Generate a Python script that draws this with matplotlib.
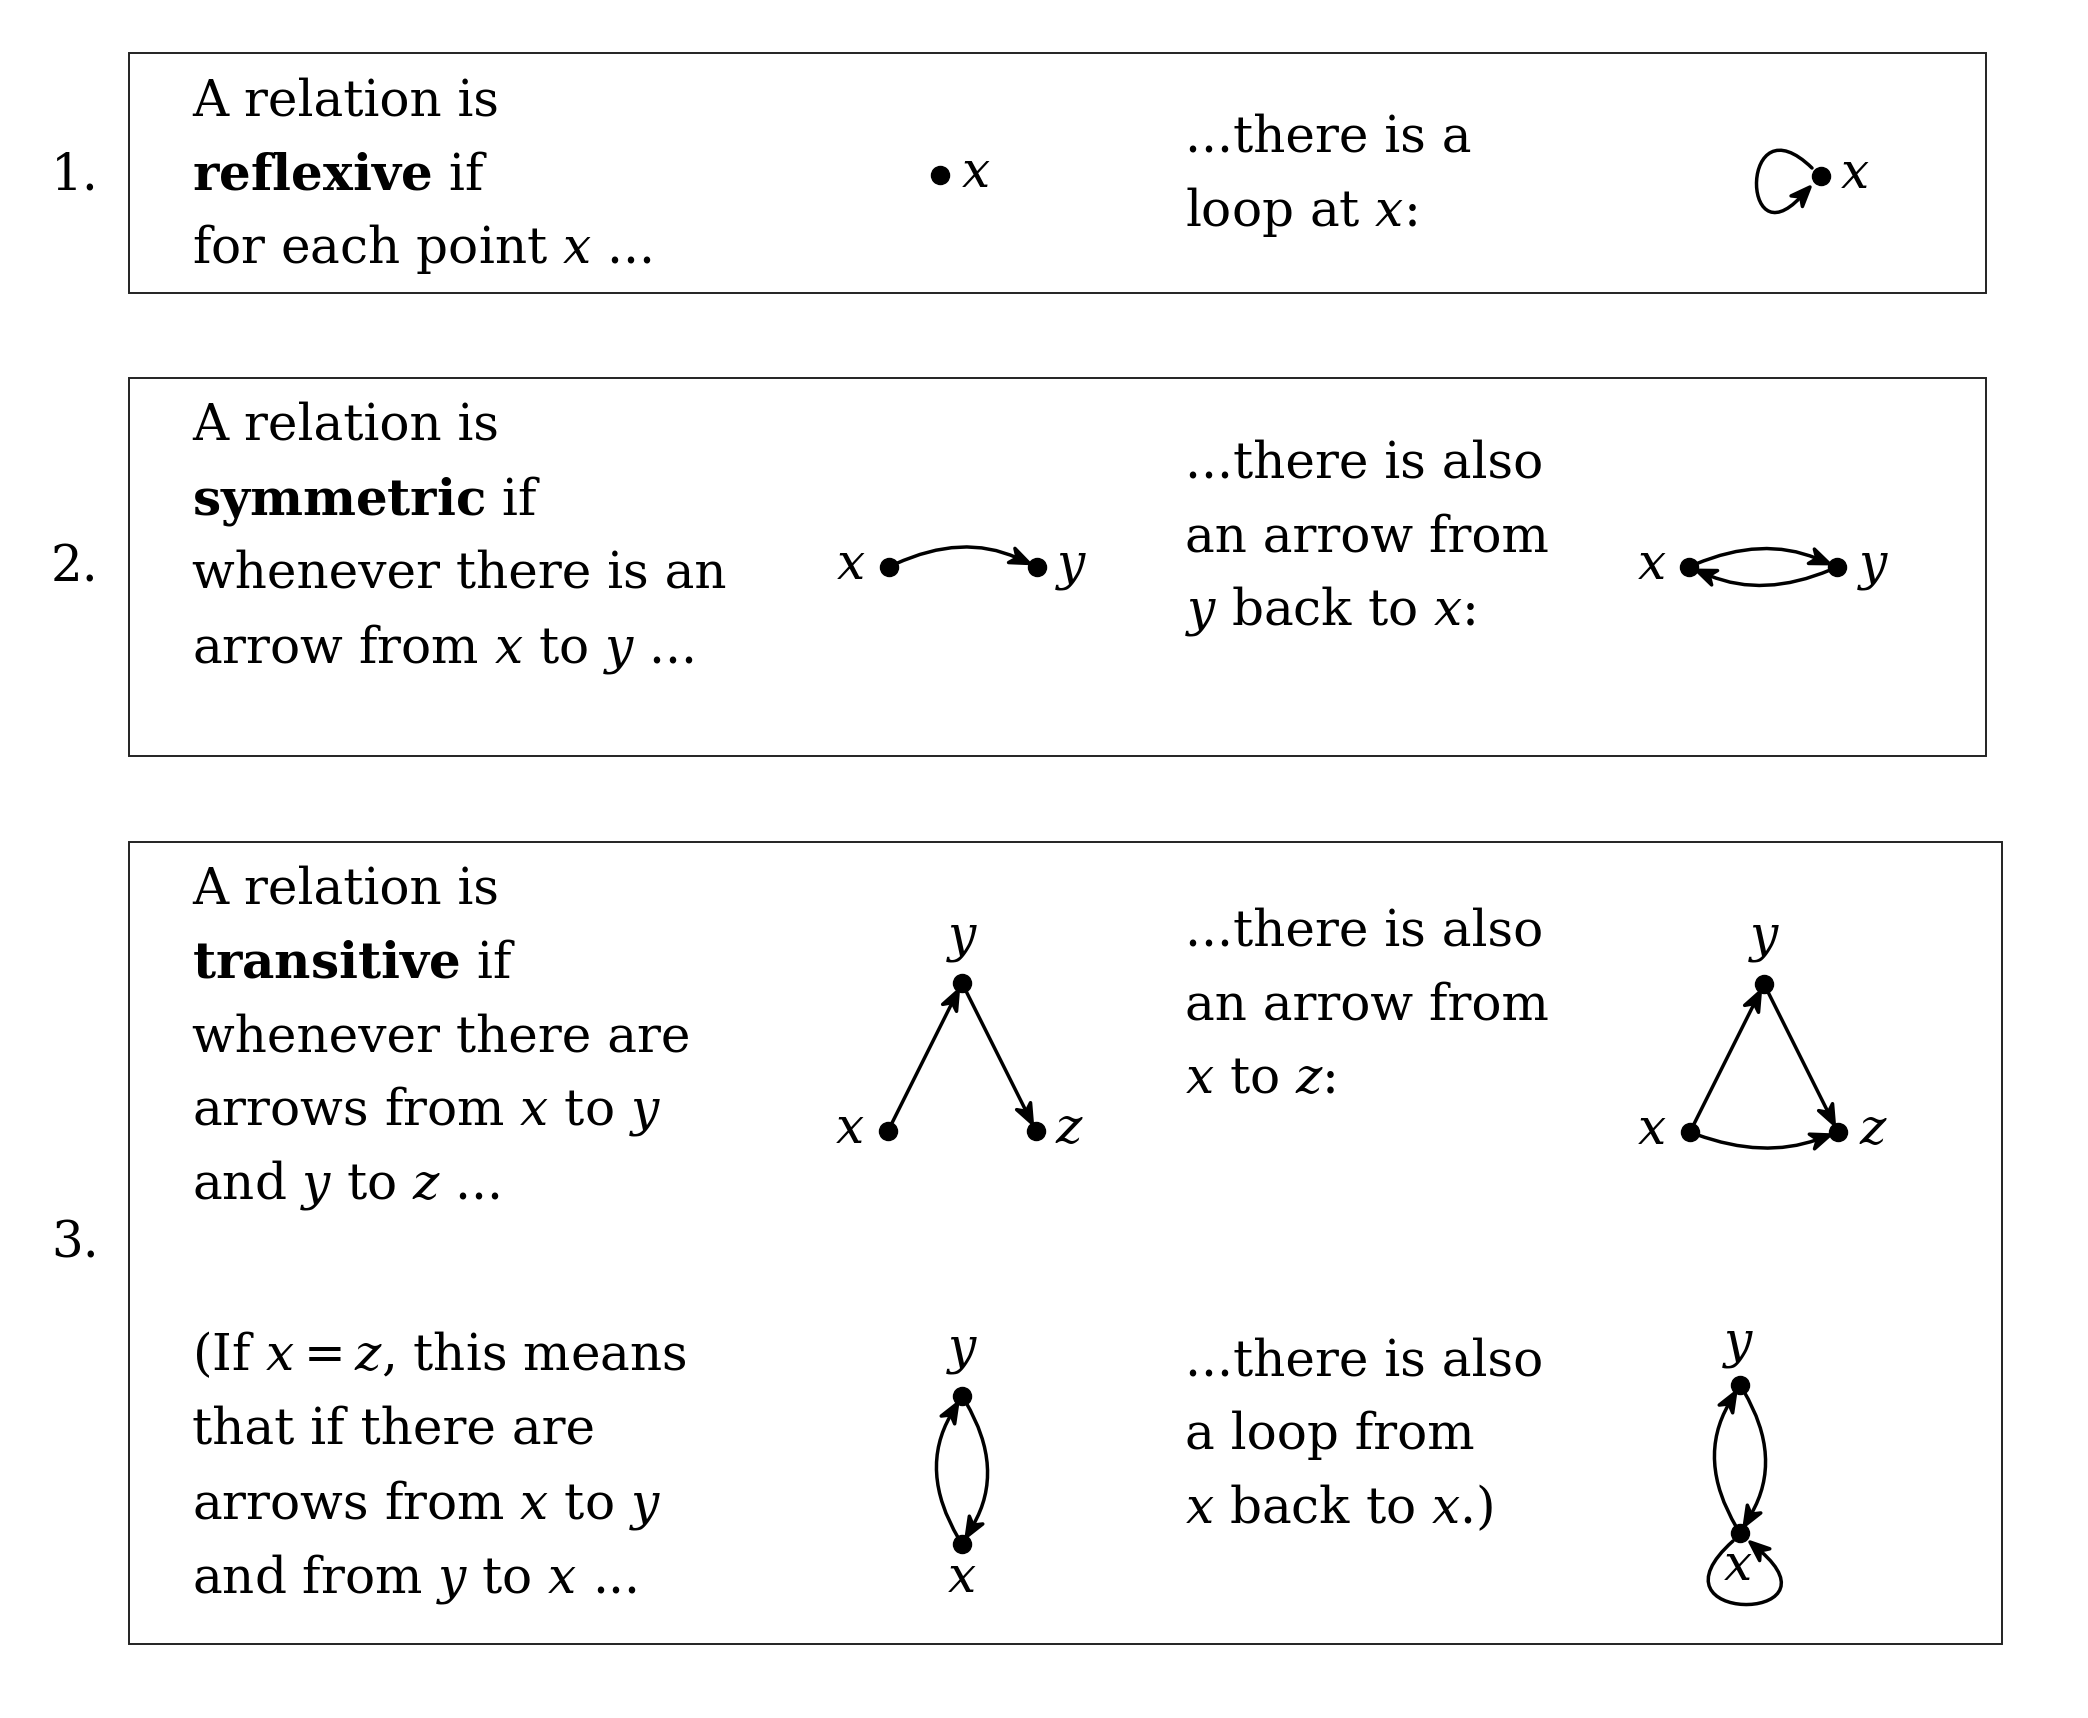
import matplotlib
matplotlib.use("Agg")
import matplotlib.pyplot as plt
import numpy as np
from matplotlib.patches import Rectangle, FancyArrowPatch, ArrowStyle
from matplotlib.path import Path

plt.rcParams["font.family"] = "DejaVu Serif"
plt.rcParams["mathtext.fontset"] = "custom"
plt.rcParams["mathtext.rm"] = "DejaVu Serif"
plt.rcParams["mathtext.it"] = "DejaVu Serif:italic"
plt.rcParams["mathtext.bf"] = "DejaVu Serif:bold"

# ---- text content ----
numbers = ["1.", "2.", "3."]

box1_left = ["A relation is", r"$\mathbf{reflexive}$ if", r"for each point $x$ ..."]
box1_right = ["...there is a", r"loop at $x$:"]

box2_left = ["A relation is", r"$\mathbf{symmetric}$ if",
             "whenever there is an", r"arrow from $x$ to $y$ ..."]
box2_right = ["...there is also", "an arrow from", r"$y$ back to $x$:"]

box3_left = ["A relation is", r"$\mathbf{transitive}$ if", "whenever there are",
             r"arrows from $x$ to $y$", r"and $y$ to $z$ ..."]
box3_right = ["...there is also", "an arrow from", r"$x$ to $z$:"]

box3b_left = [r"(If $x = z$, this means", "that if there are",
              r"arrows from $x$ to $y$", r"and from $y$ to $x$ ..."]
box3b_right = ["...there is also", "a loop from", r"$x$ back to $x$.)"]

# ---- layout (pixel coordinates, y downwards) ----
W, H = 2088, 1718
FS = 36
LINE = 74
X_LEFT, X_RIGHT = 192, 1185
LW = 2.5
boxes = [(129, 53, 1986, 293), (129, 378, 1986, 756), (129, 842, 2002, 1644)]
num_pos = [(75, 189), (75, 582), (75, 1257)]


class Stealth(ArrowStyle._Base):
    # concave arrow head, a bit like the tikz "stealth" tip
    def __init__(self, head_length=1.0, head_width=0.8, notch=0.3):
        self.head_length = head_length
        self.head_width = head_width
        self.notch = notch
        super().__init__()

    def transmute(self, path, mutation_size, linewidth):
        verts = path.vertices.copy()
        tip = verts[-1].copy()
        d = tip - verts[-2]
        d = d / np.hypot(*d)
        n = np.array([-d[1], d[0]])
        L = self.head_length * mutation_size
        w = self.head_width * mutation_size / 2
        inner = tip - d * L * (1 - self.notch)
        verts[-1] = inner
        line = Path(verts, path.codes)
        head = Path([tip, tip - d * L + n * w, inner, tip - d * L - n * w, tip],
                    [Path.MOVETO, Path.LINETO, Path.LINETO, Path.LINETO,
                     Path.CLOSEPOLY])
        return [line, head], [False, True]


fig = plt.figure(figsize=(W / 100, H / 100), dpi=100)
ax = fig.add_axes([0, 0, 1, 1])
ax.set_xlim(0, W)
ax.set_ylim(H, 0)
ax.axis("off")

for x0, y0, x1, y1 in boxes:
    ax.add_patch(Rectangle((x0, y0), x1 - x0, y1 - y0, fill=False,
                           ec="#222222", lw=1.4))

for n, (nx, ny) in zip(numbers, num_pos):
    ax.text(nx, ny, n, fontsize=FS, ha="center", va="baseline")


def block(lines, x, y0):
    for i, s in enumerate(lines):
        ax.text(x, y0 + i * LINE, s, fontsize=FS, ha="left", va="baseline")


block(box1_left, X_LEFT, 115)
block(box1_right, X_RIGHT, 152)
block(box2_left, X_LEFT, 440)
block(box2_right, X_RIGHT, 477)
block(box3_left, X_LEFT, 903)
block(box3_right, X_RIGHT, 945)
block(box3b_left, X_LEFT, 1370)
block(box3b_right, X_RIGHT, 1375)


# ---- diagrams ----
def dot(p):
    ax.plot(p[0], p[1], "o", color="black", ms=13, zorder=5)


def label(s, x, y):
    ax.text(x, y, s, fontsize=FS, ha="center", va="baseline")


def arrow(a, b, rad=0.0):
    ax.add_patch(FancyArrowPatch(a, b, arrowstyle=Stealth(), mutation_scale=14,
                                 connectionstyle=f"arc3,rad={rad}",
                                 shrinkA=5, shrinkB=6, lw=LW, color="black",
                                 zorder=4))


def loop(verts):
    codes = [Path.MOVETO, Path.CURVE4, Path.CURVE4, Path.CURVE4]
    ax.add_patch(FancyArrowPatch(path=Path(verts, codes), arrowstyle=Stealth(),
                                 mutation_scale=14, lw=LW, color="black",
                                 zorder=4))


# 1. reflexive
p = (940, 175)
dot(p)
label("$x$", 976, 187)
p = (1821, 176)
dot(p)
label("$x$", 1855, 188)
loop([(1812, 168), (1740, 98), (1740, 262), (1810, 187)])

# 2. symmetric
px, py = (889, 567), (1037, 567)
dot(px); dot(py)
label("$x$", 851, 579); label("$y$", 1071, 579)
arrow(px, py, -0.25)

px, py = (1689, 567), (1837, 567)
dot(px); dot(py)
label("$x$", 1652, 579); label("$y$", 1873, 579)
arrow(px, py, -0.23)
arrow(py, px, -0.23)

# 3. transitive
px, py, pz = (888, 1131), (962, 983), (1036, 1131)
for q in (px, py, pz):
    dot(q)
label("$x$", 850, 1143); label("$y$", 962, 950); label("$z$", 1070, 1143)
arrow(px, py)
arrow(py, pz)

px, py, pz = (1690, 1132), (1764, 984), (1838, 1132)
for q in (px, py, pz):
    dot(q)
label("$x$", 1652, 1144); label("$y$", 1764, 951); label("$z$", 1874, 1144)
arrow(px, py)
arrow(py, pz)
arrow(px, pz, 0.2)

px, py = (962, 1544), (962, 1396)
dot(px); dot(py)
label("$y$", 962, 1363); label("$x$", 962, 1592)
arrow(px, py, -0.32)
arrow(py, px, -0.32)

px, py = (1740, 1533), (1740, 1385)
dot(px); dot(py)
label("$y$", 1738, 1356); label("$x$", 1738, 1580)
arrow(px, py, -0.32)
arrow(py, px, -0.32)
loop([(1733, 1541), (1640, 1624), (1845, 1624), (1750, 1542)])

fig.savefig("out.png", dpi=100, facecolor="white")
